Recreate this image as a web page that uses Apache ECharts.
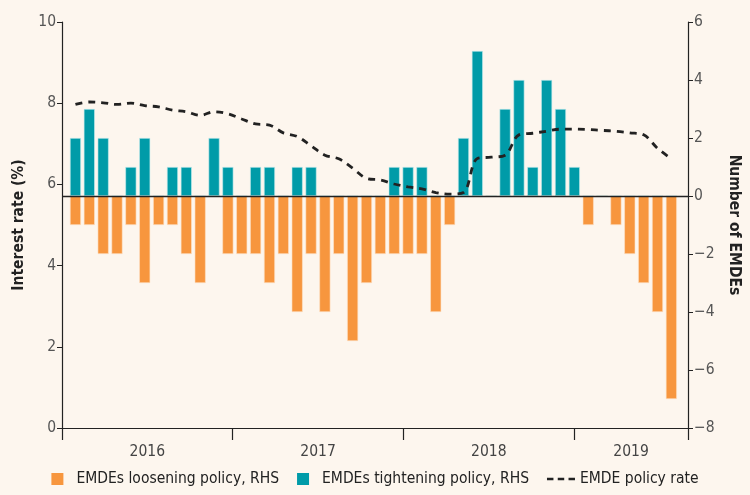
<!DOCTYPE html>
<html>
<head>
<meta charset="utf-8">
<script src="https://cdn.jsdelivr.net/npm/echarts@6/dist/echarts.min.js"></script>
<style>
  html, body { margin: 0; padding: 0; background: #fdf6ee; }
  #chart { width: 750px; height: 495px; }
</style>
</head>
<body>
<div id="chart"></div>
<script>
var dom = document.getElementById("chart");
var myChart = echarts.init(dom);

// Jan 2016 - Aug 2019, monthly
var months = [
    'Jan-16','Feb-16','Mar-16','Apr-16','May-16','Jun-16','Jul-16','Aug-16','Sep-16','Oct-16','Nov-16','Dec-16',
    'Jan-17','Feb-17','Mar-17','Apr-17','May-17','Jun-17','Jul-17','Aug-17','Sep-17','Oct-17','Nov-17','Dec-17',
    'Jan-18','Feb-18','Mar-18','Apr-18','May-18','Jun-18','Jul-18','Aug-18','Sep-18','Oct-18','Nov-18','Dec-18',
    'Jan-19','Feb-19','Mar-19','Apr-19','May-19','Jun-19','Jul-19','Aug-19'
];
var loosening = [
    -1, -1, -2, -2, -1, -3, -1, -1, -2, -3, 0, -2,
    -2, -2, -3, -2, -4, -2, -4, -2, -5, -3, -2, -2,
    -2, -2, -4, -1, 0, 0, 0, 0, 0, 0, 0, 0,
    0, -1, 0, -1, -2, -3, -4, -7
];
var tightening = [
    2, 3, 2, 0, 1, 2, 0, 1, 1, 0, 2, 1,
    0, 1, 1, 0, 1, 1, 0, 0, 0, 0, 0, 1,
    1, 1, 0, 0, 2, 5, 0, 3, 4, 1, 4, 3,
    1, 0, 0, 0, 0, 0, 0, 0
];
var policyRate = [
    7.97, 8.03, 8.01, 7.97, 8.0, 7.94, 7.91, 7.83, 7.79, 7.70, 7.79, 7.74,
    7.61, 7.49, 7.46, 7.27, 7.18, 6.95, 6.72, 6.63, 6.40, 6.15, 6.11, 6.01,
    5.94, 5.89, 5.80, 5.76, 5.80, 6.64, 6.67, 6.72, 7.22, 7.26, 7.31, 7.36,
    7.36, 7.35, 7.33, 7.31, 7.27, 7.22, 6.89, 6.63
];
var years = ['2016', '2017', '2018', '2019'];
var yearLabelAt = [6, 18, 30, 40];   // month position of each year label

var font = "'Liberation Sans Narrow', 'DejaVu Sans Condensed', sans-serif";

function pairs(arr) {
    return arr.map(function (v, i) { return [i, v]; });
}

var option = {
    backgroundColor: '#fdf6ee',
    textStyle: { fontFamily: font },
    grid: { left: 62, right: 57, top: 22, bottom: 67 },
    legend: {
        bottom: 3,
        left: 'center',
        itemWidth: 28,
        itemHeight: 12,
        itemGap: 18,
        itemStyle: { borderWidth: 0 },
        textStyle: { fontFamily: font, fontSize: 15.5, color: '#222' },
        data: [
            { name: 'EMDEs loosening policy, RHS', icon: 'path://M0,0H10V10H0Z' },
            { name: 'EMDEs tightening policy, RHS', icon: 'path://M0,0H10V10H0Z' },
            { name: 'EMDE policy rate', icon: 'path://M0,0H6V2.4H0Z M10,0H16V2.4H10Z M20,0H26V2.4H20Z' }
        ]
    },
    xAxis: [
        {
            // month positions for the marks
            type: 'value', min: -0.97, max: 44.2, show: false
        },
        {
            // year boundaries
            type: 'value', min: 0, max: 44, interval: 12, position: 'bottom',
            axisLine: { show: true, onZero: false, lineStyle: { color: '#222', width: 1.2 } },
            axisTick: { show: true, length: 12, lineStyle: { color: '#222', width: 1.2 } },
            axisLabel: { show: false },
            splitLine: { show: false }
        },
        {
            // year labels
            type: 'value', min: 0, max: 44, interval: 2, position: 'bottom',
            axisLine: { show: false, onZero: false },
            axisTick: { show: false },
            splitLine: { show: false },
            axisLabel: {
                margin: 16,
                fontSize: 15.5,
                color: '#444',
                fontFamily: font,
                showMinLabel: true,
                showMaxLabel: true,
                formatter: function (v) {
                    var k = yearLabelAt.indexOf(v);
                    return k >= 0 ? years[k] : '';
                }
            }
        }
    ],
    yAxis: [
        {
            type: 'value', min: 0, max: 10, interval: 2,
            name: 'Interest rate (%)',
            nameLocation: 'middle',
            nameGap: 34,
            nameTextStyle: { fontSize: 15.5, fontWeight: 'bold', color: '#222', fontFamily: font },
            axisLine: { show: true, onZero: false, lineStyle: { color: '#222', width: 1.2 } },
            axisTick: { show: true, length: 5, lineStyle: { color: '#222' } },
            axisLabel: { fontSize: 15.5, color: '#555', margin: 6, fontFamily: font },
            splitLine: { show: false }
        },
        {
            type: 'value', min: -8, max: 6, interval: 2,
            name: 'Number of EMDEs',
            nameLocation: 'middle',
            nameGap: 38,
            nameRotate: -90,
            nameTextStyle: { fontSize: 15.5, fontWeight: 'bold', color: '#222', fontFamily: font },
            axisLine: { show: true, onZero: false, lineStyle: { color: '#222', width: 1.2 } },
            axisTick: { show: true, length: 5, lineStyle: { color: '#222' } },
            axisLabel: {
                fontSize: 15.5, color: '#555', margin: 6, fontFamily: font,
                formatter: function (v) { return String(v).replace('-', '\u2212'); }
            },
            splitLine: { show: false }
        }
    ],
    series: [
        {
            name: 'EMDEs loosening policy, RHS',
            type: 'bar',
            xAxisIndex: 0,
            yAxisIndex: 1,
            barWidth: 11,
            barGap: '-100%',
            itemStyle: { color: '#f7963e', borderColor: '#fde3c8', borderWidth: 0.6 },
            data: pairs(loosening),
            markLine: {
                silent: true,
                symbol: 'none',
                label: { show: false },
                lineStyle: { color: '#222', width: 1.4, type: 'solid' },
                data: [{ yAxis: 0 }]
            }
        },
        {
            name: 'EMDEs tightening policy, RHS',
            type: 'bar',
            xAxisIndex: 0,
            yAxisIndex: 1,
            barWidth: 11,
            barGap: '-100%',
            itemStyle: { color: '#009ba8', borderColor: '#c6ecee', borderWidth: 0.6 },
            data: pairs(tightening)
        },
        {
            name: 'EMDE policy rate',
            type: 'line',
            xAxisIndex: 0,
            yAxisIndex: 0,
            smooth: 0.35,
            symbol: 'none',
            lineStyle: { color: '#222', width: 2.8, type: [7, 6] },
            itemStyle: { color: '#222' },
            z: 5,
            data: pairs(policyRate)
        }
    ]
};

if (option && typeof option === 'object') {
    myChart.setOption(option);
}
</script>
</body>
</html>
